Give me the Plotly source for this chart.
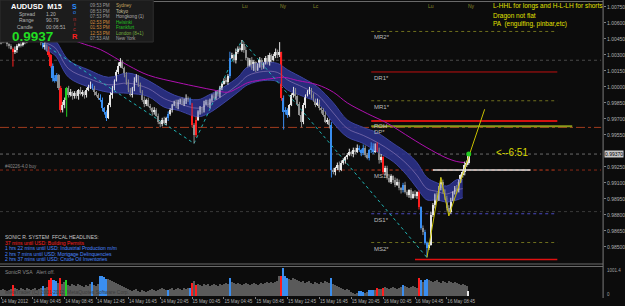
import plotly.graph_objects as go

# ---------------- data (prices in pips, i.e. price * 10000) ----------------
open0 = 10042
closes = [
    10044, 10046, 10042, 10040, 10038, 10036, 10033, 10035, 10038, 10040,
    10039, 10042, 10044, 10046, 10048, 10049, 10047, 10050, 10048, 10044,
    10041, 10037, 10039, 10036, 10030, 10020, 10008, 10006, 10011, 9999,
    9978, 9983, 9988, 9999, 9992, 9995, 9991, 9994, 9991, 9997,
    9993, 9995, 9992, 9997, 10000, 10002, 9999, 9995, 9992, 9990,
    9988, 9980, 9976, 9971, 9983, 9992, 9999, 10006, 10014, 10020,
    10023, 10018, 10011, 10005, 9997, 9992, 9999, 10006, 10010, 10002,
    9995, 9988, 9984, 9988, 9982, 9980, 9976, 9978, 9973, 9967,
    9965, 9969, 9966, 9971, 9975, 9978, 9983, 9985, 9982, 9986,
    9988, 9984, 9987, 9990, 9988, 9984, 9964, 9955, 9969, 9976,
    9980, 9978, 9984, 9986, 9983, 9988, 9991, 9990, 9995, 9993,
    9999, 10003, 10006, 10005, 10010, 10027, 10030, 10025, 10033, 10036,
    10035, 10040, 10035, 10027, 10020, 10025, 10018, 10023, 10016, 10020,
    10025, 10019, 10022, 10027, 10023, 10030, 10025, 10029, 10033, 10030,
    10033, 9990, 9976, 9978, 9974, 9983, 9992, 9997, 9991, 9984,
    9974, 9967, 9983, 9992, 9995, 9997, 9992, 9988, 9983, 9986,
    9980, 9978, 9974, 9967, 9969, 9964, 9922, 9920, 9924, 9927,
    9922, 9929, 9931, 9934, 9936, 9939, 9937, 9941, 9939, 9943,
    9941, 9938, 9943, 9936, 9933, 9941, 9945, 9939, 9946, 9941,
    9931, 9934, 9920, 9924, 9915, 9911, 9916, 9913, 9908, 9911,
    9905, 9903, 9908, 9901, 9899, 9903, 9896, 9900, 9898, 9901,
    9887, 9868, 9864, 9854, 9849, 9852, 9880, 9889, 9899, 9894,
    9905, 9911, 9903, 9896, 9886, 9883, 9894, 9901, 9905, 9903,
    9911, 9917, 9920, 9927, 9929, 9937,
]
hi_wick = [
    2, 1, 3, 2, 1, 2, 1, 3, 2, 1, 2, 2, 1, 3, 2, 1, 2, 3, 1, 2,
    1, 2, 3, 1, 2, 1, 2, 3, 2, 1, 2, 3, 2, 1, 2, 3, 1, 2, 2, 1,
    3, 2, 1, 2, 2, 3, 1, 2, 1, 2, 3, 2, 1, 2, 2, 3, 2, 1, 2, 3,
    4, 2, 1, 3, 2, 2, 1, 3, 2, 1, 2, 2, 3, 1, 2, 2, 1, 3, 2, 2,
    1, 2, 3, 1, 2, 2, 1, 2, 3, 2, 1, 2, 2, 3, 1, 2, 1, 2, 3, 2,
    2, 1, 3, 2, 2, 1, 2, 3, 1, 2, 2, 1, 2, 3, 2, 6, 2, 1, 3, 2,
    2, 4, 2, 3, 1, 2, 3, 2, 1, 2, 3, 2, 1, 2, 3, 2, 1, 2, 3, 2,
    9, 0, 2, 3, 2, 1, 2, 3, 2, 1, 2, 3, 2, 1, 2, 3, 2, 2, 1, 3,
    2, 1, 2, 3, 2, 1, 3, 2, 1, 2, 3, 2, 2, 1, 2, 3, 1, 2, 2, 3,
    2, 1, 3, 2, 2, 1, 3, 2, 1, 2, 2, 3, 1, 2, 2, 3, 2, 1, 2, 3,
    2, 1, 2, 3, 2, 1, 2, 2, 3, 1, 2, 1, 2, 2, 1, 2, 3, 2, 1, 2,
    2, 4, 2, 1, 2, 3, 2, 1, 2, 3, 2, 1, 2, 3, 2, 1,
]
lo_wick = [
    2, 3, 1, 2, 2, 1, 14, 2, 3, 1, 2, 1, 2, 3, 1, 2, 2, 1, 3, 2,
    2, 1, 2, 3, 2, 2, 3, 2, 1, 2, 2, 2, 3, 16, 2, 1, 3, 2, 2, 3,
    1, 2, 3, 2, 1, 2, 2, 3, 1, 2, 2, 3, 2, 3, 1, 2, 3, 2, 1, 2,
    2, 1, 2, 3, 2, 1, 2, 3, 2, 2, 1, 2, 3, 2, 1, 2, 3, 2, 1, 2,
    3, 2, 1, 2, 3, 2, 2, 1, 2, 3, 2, 1, 2, 3, 2, 1, 2, 8, 2, 1,
    2, 3, 2, 1, 2, 3, 2, 1, 2, 2, 3, 2, 1, 2, 3, 2, 1, 2, 3, 2,
    1, 2, 3, 2, 2, 1, 2, 3, 2, 1, 2, 3, 2, 1, 2, 3, 2, 1, 2, 3,
    2, 3, 16, 2, 3, 2, 1, 2, 3, 2, 1, 5, 2, 3, 1, 2, 3, 2, 2, 1,
    2, 3, 2, 1, 2, 3, 7, 2, 3, 2, 2, 1, 2, 3, 2, 1, 2, 3, 2, 1,
    2, 3, 2, 2, 1, 2, 3, 2, 1, 2, 3, 2, 2, 3, 2, 1, 2, 3, 2, 1,
    2, 3, 2, 1, 2, 3, 2, 1, 2, 3, 2, 2, 3, 2, 9, 2, 1, 2, 3, 2,
    1, 2, 3, 2, 2, 4, 2, 1, 2, 3, 2, 1, 2, 3, 2, 2,
]
volumes = [
    216, 252, 216, 180, 216, 252, 396,
    288, 252, 216, 288, 252, 216, 288, 252, 216, 252, 288, 216, 252, 288,
    360, 288, 324,
    576, 648, 576, 576, 540, 468, 648, 432, 504, 576,
    396, 360, 432, 396, 360, 432, 396, 360, 324, 396, 360, 432,
    504, 396, 360, 432,
    720, 720, 684, 612, 612, 576, 540, 504,
    468, 432, 396, 360, 324,
    288, 252, 216, 180, 216, 252, 180, 144, 216, 180, 144, 180, 216, 252, 216, 180, 216, 252, 288, 252, 216,
    216,
    252, 288, 216, 252, 288, 252, 216, 288, 252, 288,
    288, 468, 540, 396,
    432, 396, 360, 432, 396, 432, 360, 396, 432, 396, 360, 432, 396, 432,
    468, 432, 648,
    504, 468, 432, 468, 432, 396, 432, 468, 432, 396, 432, 468, 432, 396, 432, 468, 432, 468, 504, 468,
    504, 468, 504, 540,
    720, 720, 1008,
    720, 648, 612, 576, 648, 612, 576,
    540, 504, 540, 468, 504, 540, 468, 432, 504, 468, 432, 504, 468, 540, 504, 468,
    648,
    432, 396, 360, 324, 288, 252, 216, 252, 216,
    144, 108, 72, 108, 180, 180, 144, 108, 144,
    216, 216, 216, 216, 288,
    252, 252, 288, 324,
    288, 252, 288, 324, 288, 252, 288, 324,
    396,
    360, 324, 288, 324, 360, 324, 288,
    648, 576, 504, 576, 612,
    576, 540, 504, 540, 576, 504, 468, 540, 504, 468, 540, 504, 468, 504, 468,
    432, 396, 432, 396, 360,
    180,
]
sig_blue = [21, 26, 27, 28, 46, 50, 51, 52, 53, 84, 95, 115, 142, 143, 144, 166,
            180, 181, 182, 185, 186, 187, 202, 211, 213, 214]
sig_red = [6, 24, 25, 30, 96, 98, 141, 189, 192, 210]
sig_green = [33]

time_ticks = [0, 16, 32, 48, 64, 80, 96, 112, 128, 144, 160, 176, 192, 208, 224]
time_labels = ["14 May 2012", "14 May 04:45", "14 May 08:45", "14 May 12:45",
               "14 May 16:45", "14 May 20:45", "15 May 00:45", "15 May 04:45",
               "15 May 08:45", "15 May 12:45", "15 May 16:45", "15 May 20:45",
               "16 May 00:45", "16 May 04:45", "16 May 08:45"]
price_ticks = [1.0075, 1.0060, 1.0045, 1.0030, 1.0015, 1.0000, 0.9985, 0.9970,
               0.9955, 0.9925, 0.9910, 0.9895, 0.9880, 0.9865, 0.9850]

band_idx = [22, 27, 34, 44, 54, 64, 74, 82, 89, 99, 104, 112, 119, 124, 132, 139,
            144, 152, 159, 167, 174, 182, 189, 197, 204, 209, 214, 219, 224, 229, 232]
band_hi = [10048, 10044, 10025, 10016, 10009, 10013, 10006, 9997, 9991, 9988, 9992,
           10000, 10009, 10019, 10023, 10022, 10016, 10008, 10000, 9985, 9969, 9962,
           9957, 9947, 9938, 9929, 9915, 9910, 9907, 9913, 9913]
band_lo = [10035, 10030, 10009, 10000, 9995, 9994, 9991, 9981, 9978, 9972, 9975,
           9985, 9995, 10002, 10006, 10005, 9997, 9991, 9985, 9966, 9953, 9947,
           9939, 9930, 9917, 9905, 9894, 9894, 9892, 9894, 9896]

ma_idx = [30, 42, 50, 64, 74, 89, 99, 107, 114, 119, 124, 129, 137, 142, 149, 159,
          167, 174, 184, 194, 206, 214, 223, 229, 233]
ma_val = [10048, 10040, 10035, 10020, 10011, 10004, 10000, 9997, 9995, 9999, 10004,
          10006, 10008, 10009, 10006, 10002, 9995, 9985, 9975, 9966, 9952, 9943,
          9934, 9930, 9929]

zz_idx = [24, 97, 121, 214]
zz_val = [10037, 9947, 10044, 9840]
yz_idx = [214, 221, 225, 243]
yz_val = [9840, 9915, 9879, 9979]

lvl_names = ["MR2*", "DR1*", "MR1*", "ROH", "DP*", "MS1*", "DS1*", "MS2*"]
lvl_prices = [10052, 10014, 9987, 9968, 9963, 9922, 9881, 9854]
full_lines = [10025, 9962, 9937, 9922, 9883]
white_seg = 9922
low_line = 9838
last_price = "0.9937"
countdown = "<--6:51"

# ---------------- helpers ----------------
W, H = 625, 306
def px(x):
    return x / W
def py(y):
    return 1 - y / H
def P(v):
    return v / 10000.0

n = len(closes)
idx = list(range(n))
opens = [open0] + closes[:-1]
highs = [max(o, c) + w for o, c, w in zip(opens, closes, hi_wick)]
lows = [min(o, c) - w for o, c, w in zip(opens, closes, lo_wick)]

COL = {"bull": "#e6e6e6", "bear": "#8e8e8e", "blue": "#3a8ef0",
       "red": "#ff1e1e", "green": "#22d022"}

def cat(i):
    if i in sig_blue:
        return "blue"
    if i in sig_red:
        return "red"
    if i in sig_green:
        return "green"
    return "bull" if closes[i] >= opens[i] else "bear"

cats = [cat(i) for i in idx]

fig = go.Figure()

# Dragon band
fig.add_trace(go.Scatter(x=band_idx, y=[P(v) for v in band_hi], mode="lines",
                         line=dict(color="#3c44a0", width=1, shape="spline"), hoverinfo="skip"))
fig.add_trace(go.Scatter(x=band_idx, y=[P(v) for v in band_lo], mode="lines",
                         line=dict(color="#3c44a0", width=1, shape="spline"), fill="tonexty",
                         fillcolor="rgba(44,50,140,0.88)", hoverinfo="skip"))
fig.add_trace(go.Scatter(x=band_idx, y=[P((a + b) / 2) for a, b in zip(band_hi, band_lo)],
                         mode="lines", line=dict(color="rgba(150,130,190,0.6)", width=1,
                                                 shape="spline"),
                         hoverinfo="skip"))
# magenta MA
fig.add_trace(go.Scatter(x=ma_idx, y=[P(v) for v in ma_val], mode="lines",
                         line=dict(color="#b010b0", width=1, shape="spline"), hoverinfo="skip"))
# cyan dotted zigzag
fig.add_trace(go.Scatter(x=zz_idx, y=[P(v) for v in zz_val], mode="lines",
                         line=dict(color="#20b4b4", width=1, dash="dot"), hoverinfo="skip"))

# candle bodies
fig.add_trace(go.Bar(x=idx, y=[max(abs(c - o), 0.5) / 10000 for o, c in zip(opens, closes)],
                     base=[P(min(o, c)) for o, c in zip(opens, closes)],
                     marker=dict(color=[COL[c] for c in cats], line=dict(width=0)),
                     width=0.8, hoverinfo="skip"))
# wicks
for k, colr in COL.items():
    xs, ys = [], []
    for i in idx:
        if cats[i] == k:
            xs += [i, i, None]
            ys += [P(lows[i]), P(highs[i]), None]
    if xs:
        fig.add_trace(go.Scatter(x=xs, y=ys, mode="lines", line=dict(color=colr, width=1),
                                 hoverinfo="skip"))

# yellow zigzag + current dot
fig.add_trace(go.Scatter(x=yz_idx, y=[P(v) for v in yz_val], mode="lines",
                         line=dict(color="#c8c000", width=1), hoverinfo="skip"))
fig.add_trace(go.Scatter(x=[idx[-1]], y=[P(closes[-1])], mode="markers",
                         marker=dict(color="#22cc22", size=5), hoverinfo="skip"))

# volume
vcols = []
for i in idx:
    c = cats[i]
    if i == n - 1:
        vcols.append("#e8e8e8")
    elif c in ("blue", "red", "green"):
        vcols.append(COL[c])
    else:
        vcols.append("#5a5a5a")
fig.add_trace(go.Bar(x=idx, y=volumes, xaxis="x2", yaxis="y2",
                     marker=dict(color=vcols, line=dict(width=0)), width=0.75,
                     hoverinfo="skip"))

shapes = []
annos = []
FONT = "Liberation Sans"

# level lines (right-hand block)
lvl_style = {
    "MR2*": ("#6e6e1e", "dot", 1), "DR1*": ("#c01010", "solid", 1),
    "MR1*": ("#6e6e1e", "dot", 1), "ROH": ("#d01010", "solid", 2),
    "DP*": ("#8a9a1a", "solid", 2), "MS1*": ("#8a3018", "dot", 1),
    "DS1*": ("#4848c0", "dot", 1), "MS2*": ("#6e6e1e", "dot", 1),
}
lvl_shift = {"ROH": 0, "DP*": -1}
for name, pr in zip(lvl_names, lvl_prices):
    colr, dash, wdt = lvl_style[name]
    x1 = 287 if name == "DP*" else 279.5
    shapes.append(dict(type="line", xref="x", yref="y", x0=186, x1=x1, y0=P(pr), y1=P(pr),
                       line=dict(color=colr, width=wdt, dash=dash), layer="below"))
    annos.append(dict(x=186.5, y=P(pr), xref="x", yref="y", text=name, showarrow=False,
                      xanchor="left", yanchor="top", yshift=lvl_shift.get(name, -1),
                      font=dict(color="#bdbdbd", size=6, family=FONT)))

full_style = [("#4a4a4a", "dot"), ("#a03c1e", "dashdot"), ("#6a6a6a", "dot"),
              ("#8a2a18", "dot"), ("#3a3a3a", "dot")]
for pr, (colr, dash) in zip(full_lines, full_style):
    shapes.append(dict(type="line", xref="paper", yref="y", x0=0, x1=px(604), y0=P(pr),
                       y1=P(pr), line=dict(color=colr, width=1, dash=dash), layer="below"))
shapes.append(dict(type="line", xref="x", yref="y", x0=217, x1=266, y0=P(white_seg),
                   y1=P(white_seg), line=dict(color="#e0e0e0", width=1.5)))
shapes.append(dict(type="line", xref="x", yref="y", x0=208, x1=279.5, y0=P(low_line),
                   y1=P(low_line), line=dict(color="#e01010", width=1.5)))

# frame lines
for y0 in (1.5, 264, 266.5):
    shapes.append(dict(type="line", xref="paper", yref="paper", x0=0, x1=px(606),
                       y0=py(y0), y1=py(y0), line=dict(color="#6a6a6a", width=1)))
shapes.append(dict(type="line", xref="paper", yref="paper", x0=px(606), x1=px(606),
                   y0=py(0), y1=py(298), line=dict(color="#7a7a7a", width=1)))

# info panel
shapes.append(dict(type="rect", xref="paper", yref="paper", x0=0, x1=px(154), y0=py(42),
                   y1=py(0), fillcolor="#1c1c1c", line=dict(color="#2e2e2e", width=1),
                   layer="above"))

def T(x, y, text, color, size, bold=False, anchor="left", family=FONT):
    t = "<b>%s</b>" % text if bold else text
    annos.append(dict(x=px(x), y=py(y), xref="paper", yref="paper", text=t,
                      showarrow=False, xanchor=anchor, yanchor="middle",
                      font=dict(color=color, size=size, family=family)))

T(9, 6, "AUDUSD&nbsp;&nbsp;M15", "#ffffff", 7.5, bold=True)
T(17, 14, "Spread", "#b4b4b4", 5)
T(44, 14, "1.20", "#b4b4b4", 5)
T(17, 20.5, "Range", "#b4b4b4", 5)
T(44, 20.5, "90.79", "#b4b4b4", 5)
T(15, 27, "Candle", "#b4b4b4", 5)
T(44, 27, "00:06:51", "#b4b4b4", 5)
T(10, 36, last_price, "#22dd22", 13.5, bold=True)

for ch, yy, colr, sz, bd in [("S", 6, "#2a8cff", 7, True), ("o", 12.5, "#2a8cff", 5.5, False),
                             ("n", 18.5, "#c03030", 5.5, False), ("i", 24, "#c03030", 5.5, False),
                             ("c", 29, "#c03030", 5.5, False), ("R", 36, "#ff2020", 7.5, True)]:
    T(75, yy, ch, colr, sz, bold=bd, anchor="center")

times = ["09:53 PM", "08:53 PM", "07:53 PM", "02:53 PM", "01:53 PM", "12:53 PM", "07:53 AM"]
cities = ["Sydney", "Tokyo", "Hongkong (1)", "Helsinki", "Frankfurt", "London (8+1)", "New York"]
tcols = ["#9a9a9a", "#9a9a9a", "#9a9a9a", "#d08a3a", "#d08a3a", "#d08a3a", "#9a9a9a"]
ccols = ["#c8a860", "#c8c0a0", "#b0b0b0", "#22c022", "#22c022", "#78b040", "#a0a0a0"]
rows = [5.7, 11.3, 16.7, 22.3, 27.7, 33.3, 38.3]
for t, c, tc, cc, yy in zip(times, cities, tcols, ccols, rows):
    T(88, yy, t, tc, 4.6)
    T(115, yy, c, cc, 4.6)

# session markers
for xx, s in [(241, "Lu"), (279, "Ny"), (312, "Lc"), (428, "Lu"), (468, "Ny")]:
    T(xx, 5.5, s, "#8a8a2a", 5)

# strategy notes
for yy, s in [(6, "L-HHL for longs and H-L-LH for shorts"), (15.5, "Dragon not flat"),
              (24.5, "PA  (engulfing, pinbar,etc)")]:
    T(493, yy, s, "#e0e000", 6.5)

T(496, 152.5, countdown, "#d8d800", 10)
T(3, 167, "#40226-4.0 buy", "#8a8a8a", 4.5)

# headlines
T(3, 236.5, "SONIC R. SYSTEM  FFCAL HEADLINES:", "#c8c8c8", 5)
T(3, 242.5, "37 mins until USD: Building Permits", "#ff2020", 5)
T(3, 248, "1 hrs 22 mins until USD: Industrial Production m/m", "#4a88ff", 5)
T(3, 253.5, "2 hrs 7 mins until USD: Mortgage Delinquencies", "#4a88ff", 5)
T(3, 259, "2 hrs 37 mins until USD: Crude Oil Inventories", "#4a88ff", 5)

T(3, 271.5, "SonicR VSA   Alert off.", "#8a8a8a", 5)
T(3, 292, "MetaTrader (C) 2001-2012, MetaQuotes Software Corp.", "#3c3c3c", 5)

# price tag & volume scale
annos.append(dict(x=px(607), y=P(closes[-1]), xref="paper", yref="y", text="0.99370",
                  showarrow=False, xanchor="left", yanchor="middle", bgcolor="#c8c8c8",
                  borderpad=0, font=dict(color="#000000", size=5, family=FONT)))
T(608, 270, "1001.4", "#a0a0a0", 4.5)
T(608, 294, "0", "#a0a0a0", 4.5)

fig.update_layout(
    width=W, height=H, margin=dict(l=0, r=0, t=0, b=0),
    paper_bgcolor="#0c0c0c", plot_bgcolor="#0c0c0c",
    showlegend=False, barmode="overlay", bargap=0,
    shapes=shapes, annotations=annos,
    xaxis=dict(domain=[0, px(606)], range=[-0.5, 302.5], showticklabels=False,
               showgrid=False, zeroline=False, anchor="y", fixedrange=True),
    yaxis=dict(domain=[py(263), py(3)], range=[0.98348, 1.00787], side="right",
               tickmode="array", tickvals=price_ticks,
               ticktext=["%.5f" % v for v in price_ticks],
               showgrid=False, zeroline=False,
               ticks="outside", ticklen=2, tickcolor="#808080",
               tickfont=dict(color="#b0b0b0", size=5, family=FONT), anchor="x",
               fixedrange=True),
    xaxis2=dict(domain=[0, px(606)], range=[-0.5, 302.5], anchor="y2",
                tickmode="array", tickvals=time_ticks, ticktext=time_labels,
                ticklabelposition="outside right", tickangle=0,
                ticks="outside", ticklen=2, tickcolor="#808080",
                tickfont=dict(color="#b0b0b0", size=4.6, family=FONT),
                showgrid=False, zeroline=False, fixedrange=True),
    yaxis2=dict(domain=[py(296), py(268)], range=[0, 1008], side="right",
                showticklabels=False, showgrid=False, zeroline=False, anchor="x2",
                fixedrange=True),
)

fig.write_html("out.html")
